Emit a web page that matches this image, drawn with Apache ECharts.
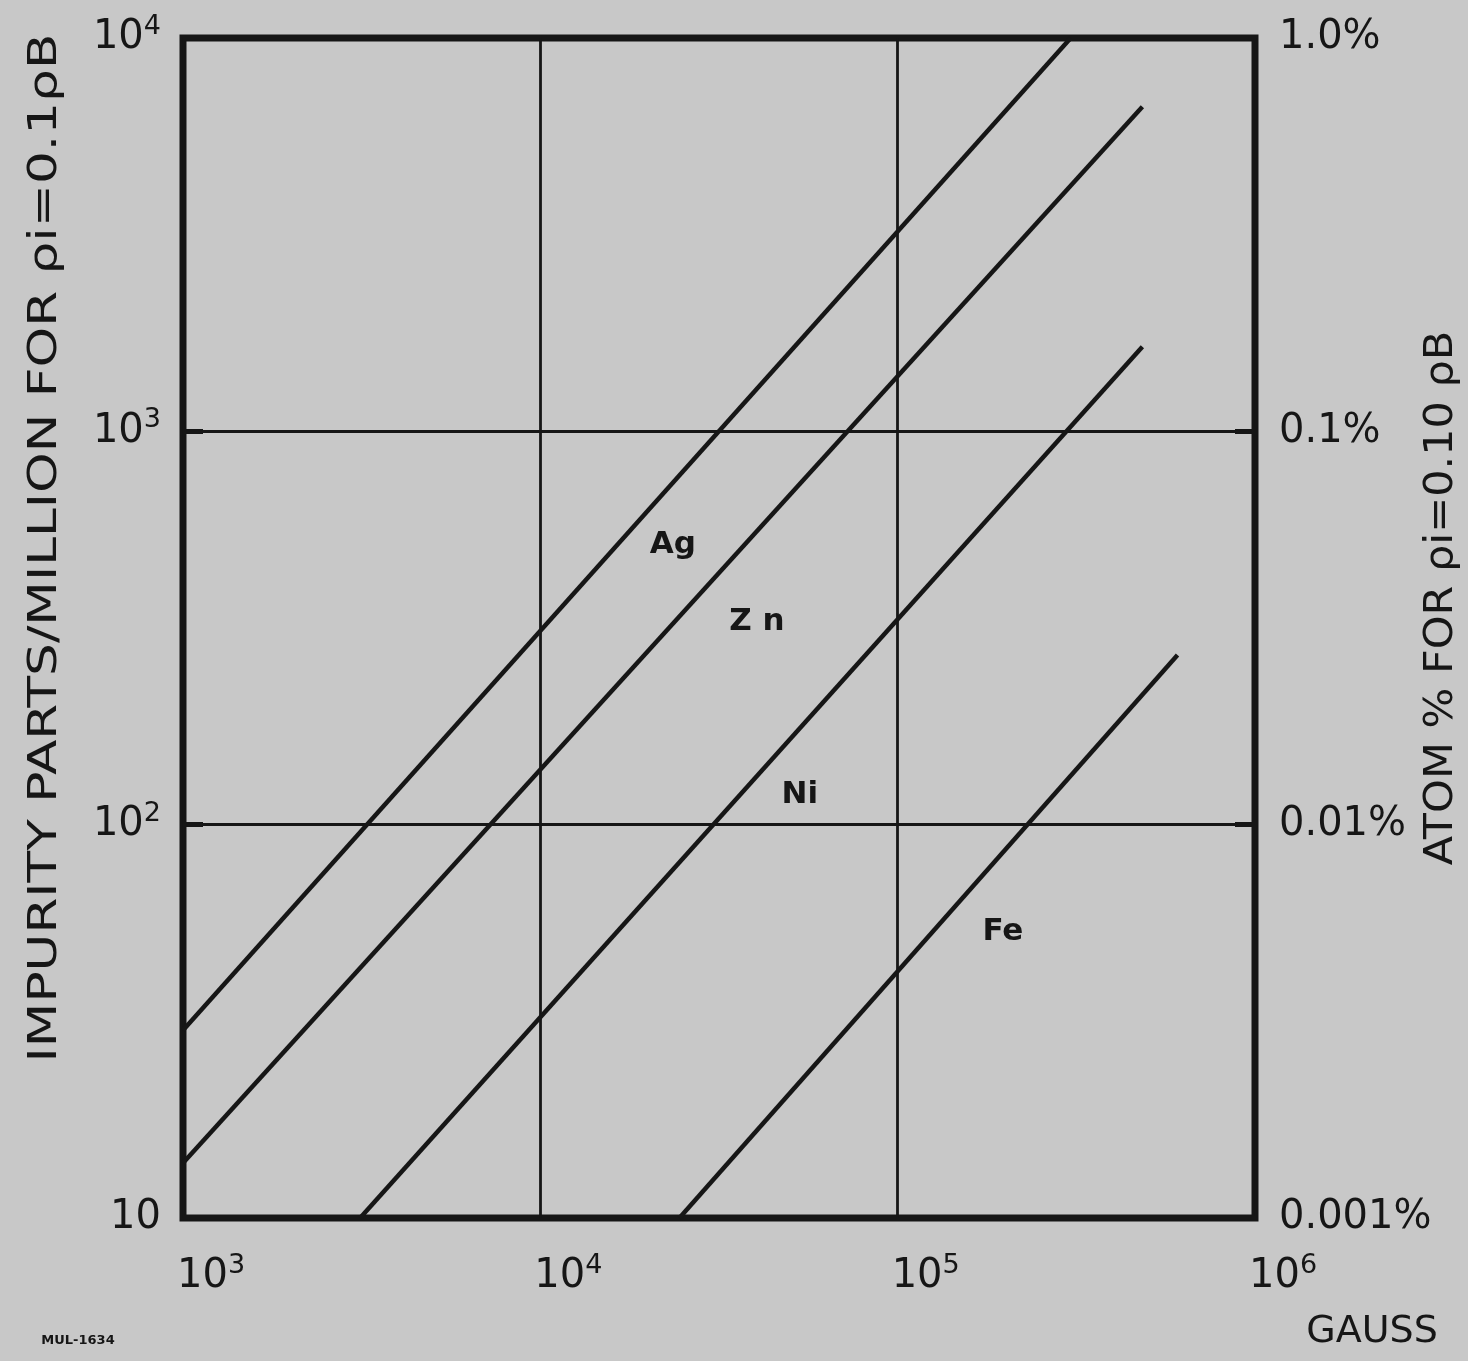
<!DOCTYPE html>
<html><head><meta charset="utf-8">
<script src="https://cdn.jsdelivr.net/npm/echarts@6/dist/echarts.min.js"></script>
<style>html,body{margin:0;padding:0;background:#c8c8c8;}#c{width:1468px;height:1361px;}</style>
</head><body><div id="c"></div>
<script>
// Data: line end points, Gauss vs impurity ppm
const agX = [1000, 305000];  const agY = [30, 10000];
const znX = [1000, 484000];  const znY = [13.8, 6690];
const niX = [3130, 484000];  const niY = [10, 1640];
const feX = [24500, 607000]; const feY = [10, 270];
const curveNames = ['Ag', 'Zn', 'Ni', 'Fe'];
const labelX = [23500, 40400, 53200, 197000];
const labelY = [514, 327, 119, 53.3];
const labelText = ['Ag', 'Z n', 'Ni', 'Fe'];
const rightTickLabels = ['0.001%', '0.01%', '0.1%', '1.0%'];

const chart = echarts.init(document.getElementById('c'), null, {renderer: 'canvas'});
const ink = '#161616';
const font = 'DejaVu Sans';
function pairs(xs, ys) { return xs.map((x, i) => [x, ys[i]]); }
function expOf(v) { return Math.round(Math.log10(v)); }
const rich = {
  b: {fontFamily: font, fontSize: 40, color: ink},
  s: {fontFamily: font, fontSize: 27, color: ink, verticalAlign: 'top', padding: [0, 0, 22, 0]}
};
const lineStyle = {color: ink, width: 4.5};
const allX = [agX, znX, niX, feX], allY = [agY, znY, niY, feY];

chart.setOption({
  backgroundColor: '#c8c8c8',
  animation: false,
  grid: {left: 183, top: 38, width: 1072, height: 1180, show: true, borderWidth: 7, borderColor: ink, backgroundColor: 'transparent'},
  xAxis: {
    type: 'log', logBase: 10, min: 1000, max: 1e6,
    axisLine: {show: false}, axisTick: {show: false}, minorTick: {show: false},
    splitLine: {show: true, lineStyle: {color: ink, width: 2.8}},
    axisLabel: {
      margin: 34, align: 'left', padding: [0, 0, 0, -6],
      formatter: v => '{b|10}{s|' + expOf(v) + '}', rich: rich
    }
  },
  yAxis: [{
    type: 'log', logBase: 10, min: 10, max: 1e4,
    axisLine: {show: false},
    axisTick: {show: true, inside: true, length: 20, lineStyle: {color: ink, width: 5}},
    splitLine: {show: true, lineStyle: {color: ink, width: 2.8}},
    axisLabel: {
      margin: 22,
      formatter: v => { const e = expOf(v); return e === 1 ? '{b|10}' : '{b|10}{s|' + e + '}'; },
      rich: rich
    }
  }, {
    type: 'log', logBase: 10, min: 0.001, max: 1, position: 'right',
    axisLine: {show: false},
    axisTick: {show: true, inside: true, length: 20, lineStyle: {color: ink, width: 5}},
    splitLine: {show: false},
    axisLabel: {
      margin: 24, fontFamily: font, fontSize: 40, color: ink,
      formatter: v => rightTickLabels[expOf(v) + 3]
    }
  }],
  series: curveNames.map((n, i) => ({
    name: n, type: 'line', data: pairs(allX[i], allY[i]), symbol: 'none',
    lineStyle: lineStyle, clip: true
  })).concat([{
    type: 'scatter', symbolSize: 0, itemStyle: {opacity: 1, color: ink},
    data: labelX.map((x, i) => ({value: [x, labelY[i]], label: {formatter: labelText[i]}})),
    label: {show: true, position: 'inside', fontFamily: font, fontWeight: 'bold', fontSize: 31, color: ink, opacity: 1}
  }]),
  graphic: [
    {type: 'text', x: 46, y: 548, rotation: Math.PI / 2, scaleX: 1.36, scaleY: 1.05,
     style: {text: 'IMPURITY PARTS/MILLION FOR ρi=0.1ρB', font: '38px "DejaVu Sans"', fill: ink, textAlign: 'center', textVerticalAlign: 'middle'}},
    {type: 'text', x: 1442, y: 598, rotation: Math.PI / 2, scaleX: 1.13, scaleY: 1.05,
     style: {text: 'ATOM % FOR ρi=0.10 ρB', font: '38px "DejaVu Sans"', fill: ink, textAlign: 'center', textVerticalAlign: 'middle'}},
    {type: 'text', x: 1372, y: 1332,
     style: {text: 'GAUSS', font: '38px "DejaVu Sans"', fill: ink, textAlign: 'center', textVerticalAlign: 'middle'}},
    {type: 'text', x: 78, y: 1341,
     style: {text: 'MUL-1634', font: 'bold 13px "DejaVu Sans"', fill: ink, textAlign: 'center', textVerticalAlign: 'middle'}}
  ]
});
</script></body></html>
